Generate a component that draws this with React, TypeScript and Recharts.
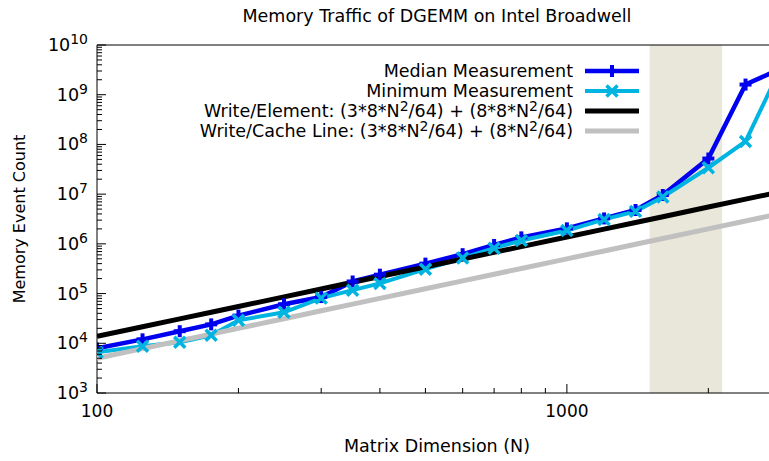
import React from "react";
import { LineChart, Line, XAxis, YAxis, ReferenceArea } from "recharts";

// matrix sizes (N) and measured memory event counts
const sizes = [100, 125, 150, 175, 200, 250, 300, 350, 400, 500, 600, 700, 800, 1000, 1200, 1400, 1600, 2000, 2400, 2800];
const medianCounts = [7900, 12000, 17500, 24000, 36000, 61000, 85000, 175000, 240000, 400000, 620000, 950000, 1350000, 2050000, 3250000, 4800000, 9600000, 52000000, 1600000000, 3100000000];
const minimumCounts = [6600, 8700, 10500, 14500, 29000, 42000, 81000, 117000, 160000, 310000, 520000, 820000, 1170000, 1850000, 3100000, 4500000, 8800000, 34000000, 115000000, 2400000000];
// model lines, read at the same N values
const writePerElement = [13750, 21484, 30938, 42109, 55000, 85938, 123750, 168438, 220000, 343750, 495000, 673750, 880000, 1375000, 1980000, 2695000, 3520000, 5500000, 7920000, 10780000];
const writePerCacheLine = [5000, 7813, 11250, 15313, 20000, 31250, 45000, 61250, 80000, 125000, 180000, 245000, 320000, 500000, 720000, 980000, 1280000, 2000000, 2880000, 3920000];

const cacheBand = [1500, 2140];
const xDomain = [100, 2800];
const yDomain = [1e3, 1e10];
const xMajorTicks = [100, 1000];
const xMinorTicks = [200, 300, 400, 500, 600, 700, 800, 900, 2000];
const yMajorTicks = [1e3, 1e4, 1e5, 1e6, 1e7, 1e8, 1e9, 1e10];
const minorSteps = [2, 3, 4, 5, 6, 7, 8, 9];

const BLUE = "#0000f0";
const CYAN = "#00b4e1";
const GRAY = "#c0c0c0";
const FONT = '"DejaVu Sans", sans-serif';

const data = sizes.map((n, i) => ({
  n,
  median: medianCounts[i],
  minimum: minimumCounts[i],
  element: writePerElement[i],
  cacheLine: writePerCacheLine[i],
}));

const yTicks = [...yMajorTicks, ...yMajorTicks.slice(0, -1).flatMap((d) => minorSteps.map((s) => d * s))];
const xTicks = [...xMajorTicks, ...xMinorTicks];

const isMajor = (v: number) => Math.abs(Math.log10(v) - Math.round(Math.log10(v))) < 1e-6;

function YTick({ x, y, payload }: any) {
  const v = payload.value;
  const major = isMajor(v);
  return (
    <g>
      <line x1={x} x2={x + (major ? 9 : 5)} y1={y} y2={y} stroke="#000" strokeWidth={1} />
      {major && (
        <text x={x - 9} y={y + 6} textAnchor="end" fontSize={17.5} fontFamily={FONT} fill="#000">
          10<tspan dy={-7} fontSize={14}>{Math.round(Math.log10(v))}</tspan>
        </text>
      )}
    </g>
  );
}

function RightTick({ x, y }: any) {
  return <line x1={x} x2={x - 9} y1={y} y2={y} stroke="#000" strokeWidth={1} />;
}

function XTick({ x, y, payload }: any) {
  const major = isMajor(payload.value);
  return (
    <g>
      <line x1={x} x2={x} y1={y} y2={y - (major ? 9 : 5)} stroke="#000" strokeWidth={1} />
      {major && (
        <text x={x} y={y + 24} textAnchor="middle" fontSize={17} fontFamily={FONT} fill="#000">
          {payload.value}
        </text>
      )}
    </g>
  );
}

function Plus({ cx, cy, color, r = 6, w = 4 }: any) {
  if (cx == null || cy == null) return null;
  return (
    <g>
      <line x1={cx - r} x2={cx + r} y1={cy} y2={cy} stroke={color} strokeWidth={w} />
      <line x1={cx} x2={cx} y1={cy - r} y2={cy + r} stroke={color} strokeWidth={w} />
    </g>
  );
}

function Cross({ cx, cy, color, r = 5.5, w = 3.5 }: any) {
  if (cx == null || cy == null) return null;
  return (
    <g>
      <line x1={cx - r} x2={cx + r} y1={cy - r} y2={cy + r} stroke={color} strokeWidth={w} />
      <line x1={cx - r} x2={cx + r} y1={cy + r} y2={cy - r} stroke={color} strokeWidth={w} />
    </g>
  );
}

function Sup({ children }: any) {
  return (
    <span style={{ fontSize: "0.8em", position: "relative", top: "-0.45em", lineHeight: 0 }}>{children}</span>
  );
}

const legendRows = [
  { key: "median", label: <>Median Measurement</>, color: BLUE, width: 4.5, mark: "plus", y: 71 },
  { key: "minimum", label: <>Minimum Measurement</>, color: CYAN, width: 4, mark: "cross", y: 91 },
  {
    key: "element",
    label: <>Write/Element: (3*8*N<Sup>2</Sup>/64) + (8*8*N<Sup>2</Sup>/64)</>,
    color: "#000",
    width: 5,
    mark: null,
    y: 111,
  },
  {
    key: "cacheLine",
    label: <>Write/Cache Line: (3*8*N<Sup>2</Sup>/64) + (8*N<Sup>2</Sup>/64)</>,
    color: GRAY,
    width: 5,
    mark: null,
    y: 131,
  },
];

function KeyBox() {
  return (
    <>
      {legendRows.map((r) => (
        <React.Fragment key={r.key}>
          <div
            style={{
              position: "absolute",
              left: 0,
              width: 573,
              top: r.y - 10,
              height: 20,
              lineHeight: "20px",
              fontSize: 17.5,
              textAlign: "right",
              whiteSpace: "nowrap",
            }}
          >
            {r.label}
          </div>
          <svg style={{ position: "absolute", left: 585, top: r.y - 10 }} width={54} height={20}>
            <line x1={0} x2={54} y1={10} y2={10} stroke={r.color} strokeWidth={r.width} />
            {r.mark === "plus" && <Plus cx={27} cy={10} color={r.color} />}
            {r.mark === "cross" && <Cross cx={27} cy={10} color={r.color} />}
          </svg>
        </React.Fragment>
      ))}
    </>
  );
}

export default function App() {
  return (
    <div
      style={{
        position: "fixed",
        left: 0,
        top: 0,
        width: 769,
        height: 461,
        overflow: "hidden",
        background: "#fff",
        fontFamily: FONT,
        color: "#000",
      }}
    >
      <div style={{ position: "absolute", left: 0, top: 0 }}>
        <LineChart width={800} height={461} data={data} margin={{ top: 45, right: 23, bottom: 0, left: 0 }}>
          <XAxis
            dataKey="n"
            type="number"
            scale="log"
            domain={xDomain}
            allowDataOverflow
            ticks={xTicks}
            interval={0}
            tick={<XTick />}
            tickLine={false}
            axisLine={false}
            tickSize={0}
            tickMargin={0}
            height={68}
          />
          <YAxis
            type="number"
            scale="log"
            domain={yDomain}
            allowDataOverflow
            ticks={yTicks}
            interval={0}
            tick={<YTick />}
            tickLine={false}
            axisLine={false}
            tickSize={0}
            tickMargin={0}
            width={97}
          />
          <YAxis
            yAxisId="mirror"
            orientation="right"
            type="number"
            scale="log"
            domain={yDomain}
            allowDataOverflow
            ticks={yMajorTicks}
            interval={0}
            tick={<RightTick />}
            tickLine={false}
            axisLine={false}
            tickSize={0}
            tickMargin={0}
            width={0}
          />
          <ReferenceArea x1={cacheBand[0]} x2={cacheBand[1]} y1={yDomain[0]} y2={yDomain[1]} fill="#e9e7da" fillOpacity={1} stroke="none" />
          <Line
            dataKey="median"
            stroke={BLUE}
            strokeWidth={4.5}
            isAnimationActive={false}
            dot={(p: any) => <Plus key={`m${p.index}`} cx={p.cx} cy={p.cy} color={BLUE} />}
          />
          <Line
            dataKey="minimum"
            stroke={CYAN}
            strokeWidth={4}
            isAnimationActive={false}
            dot={(p: any) => <Cross key={`n${p.index}`} cx={p.cx} cy={p.cy} color={CYAN} />}
          />
          <Line dataKey="element" stroke="#000" strokeWidth={5} dot={false} isAnimationActive={false} />
          <Line dataKey="cacheLine" stroke={GRAY} strokeWidth={5} dot={false} isAnimationActive={false} />
          <ReferenceArea x1={xDomain[0]} x2={xDomain[1]} y1={yDomain[0]} y2={yDomain[1]} fill="none" stroke="#000" strokeWidth={1} />
        </LineChart>
      </div>
      <div style={{ position: "absolute", left: 0, width: 874, top: 6, lineHeight: "20px", fontSize: 17.5, textAlign: "center", whiteSpace: "nowrap" }}>
        Memory Traffic of DGEMM on Intel Broadwell
      </div>
      <div style={{ position: "absolute", left: 0, width: 874, top: 436, lineHeight: "20px", fontSize: 17.5, textAlign: "center", whiteSpace: "nowrap" }}>
        Matrix Dimension (N)
      </div>
      <div
        style={{
          position: "absolute",
          left: 20 - 200,
          top: 219 - 10,
          width: 400,
          height: 20,
          lineHeight: "20px",
          fontSize: 16,
          textAlign: "center",
          transform: "rotate(-90deg)",
          whiteSpace: "nowrap",
        }}
      >
        Memory Event Count
      </div>
      <KeyBox />
    </div>
  );
}
